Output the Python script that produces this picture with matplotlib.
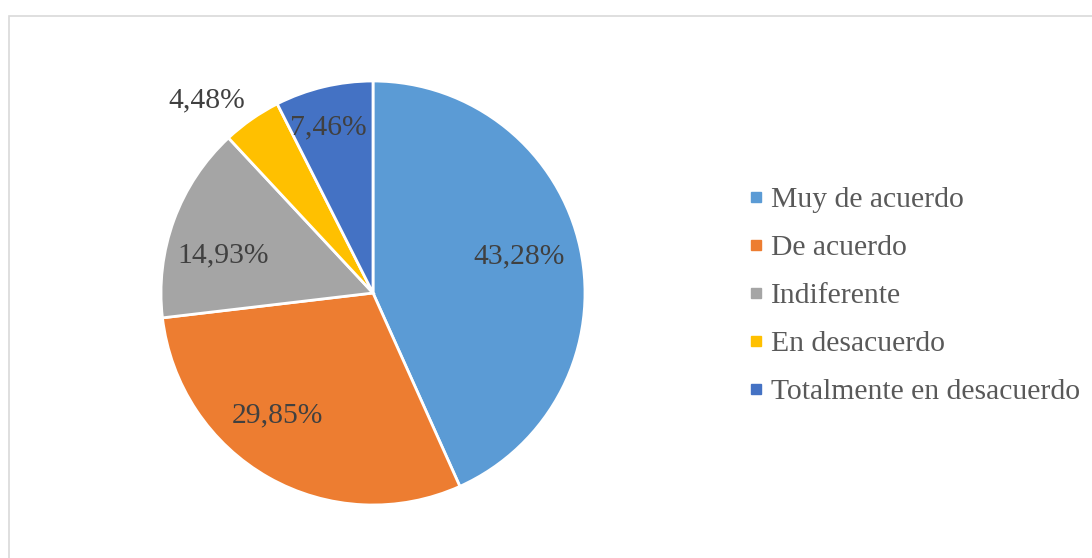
import matplotlib.pyplot as plt
import matplotlib.patches as patches
from matplotlib.lines import Line2D
import numpy as np

categories = ['Muy de acuerdo', 'De acuerdo', 'Indiferente', 'En desacuerdo',
              'Totalmente en desacuerdo']
values = [43.28, 29.85, 14.93, 4.48, 7.46]
labels = ['43,28%', '29,85%', '14,93%', '4,48%', '7,46%']
colors = ['#5B9BD5', '#ED7D31', '#A5A5A5', '#FFC000', '#4472C4']

# label placement tweaks (radius fraction, angle offset in degrees)
label_r = [0.71, 0.73, 0.73, 1.20, 0.81]
label_da = [2.0, -8.5, 6.0, 6.0, 1.5]

plt.rcParams['font.family'] = ['Liberation Serif', 'DejaVu Serif']

fig = plt.figure(figsize=(10.92, 5.58), dpi=100)
ax = fig.add_axes([161 / 1092, 53 / 558, 424 / 1092, 424 / 558])

wedges, _ = ax.pie(values, colors=colors, startangle=90, counterclock=False,
                   radius=1.0,
                   wedgeprops=dict(edgecolor='white', linewidth=2.0))
ax.set_xlim(-1, 1)
ax.set_ylim(-1, 1)
ax.set_aspect('equal')

for w, lab, r, da in zip(wedges, labels, label_r, label_da):
    ang = np.deg2rad((w.theta1 + w.theta2) / 2 + da)
    ax.text(r * np.cos(ang), r * np.sin(ang), lab, ha='center', va='center',
            fontsize=21.3, color='#404040')

handles = [Line2D([], [], marker='s', linestyle='none', markersize=7.5,
                  markerfacecolor=c, markeredgecolor=c) for c in colors]
fig.legend(handles, categories, loc='center left',
           bbox_to_anchor=(734 / 1092, 1 - 296 / 558), frameon=False,
           fontsize=21.3, labelcolor='#595959', handlelength=0.5,
           handletextpad=0.25, labelspacing=0.72, borderpad=0)

fig.patches.append(patches.Rectangle((9 / 1092, -0.1), 1.2, 1 - 16 / 558 + 0.1,
                                     transform=fig.transFigure, fill=False,
                                     edgecolor='#d9d9d9', linewidth=1.2))

fig.savefig('out.png', dpi=100)
